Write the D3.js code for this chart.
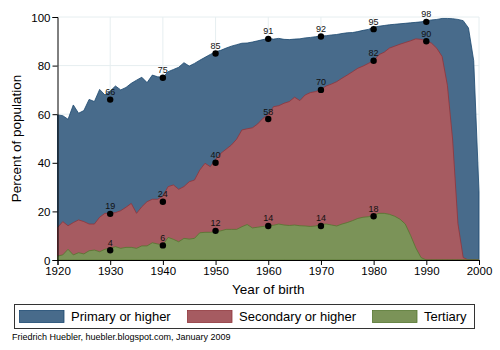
<!DOCTYPE html>
<html>
<head>
<meta charset="utf-8">
<script src="https://cdn.jsdelivr.net/npm/d3@7"></script>
<style>
  body { margin: 0; background: #fff; }
  text { font-family: "Liberation Sans", Arial, sans-serif; }
</style>
</head>
<body>
<svg id="chart" width="500" height="350"></svg>
<script>
// years of birth, one value per year
var years = d3.range(1920, 2001);

var primary = [59.7, 59.4, 57.9, 63.8, 60.4, 61.5, 66.1, 65.2, 70.2, 67.9,
  69.5, 71.6, 70.0, 71.0, 72.7, 74.0, 75.2, 73.0, 76.1, 75.4,
  75.2, 77.5, 78.4, 79.3, 81.2, 79.8, 80.9, 82.2, 83.4, 84.6,
  85.7, 86.3, 87.2, 88.0, 88.6, 89.2, 89.3, 89.7, 90.2, 90.7,
  91.2, 90.9, 91.2, 90.8, 90.7, 90.9, 91.0, 91.4, 91.6, 91.9,
  92.2, 92.3, 92.6, 92.8, 93.2, 93.5, 93.6, 94.0, 94.5, 94.9,
  95.8, 96.2, 96.5, 96.8, 97.0, 97.2, 97.4, 97.6, 97.8, 98.0,
  98.4, 98.8, 99.0, 99.4, 99.4, 99.3, 99.0, 98.5, 95.5, 82.0,
  28.0];

var secondary = [13.3, 15.8, 14.1, 15.4, 16.5, 15.8, 14.8, 14.8, 17.6, 19.2,
  19.2, 19.5, 20.3, 21.7, 23.3, 19.2, 21.9, 24.0, 25.0, 25.0,
  26.3, 30.2, 30.9, 29.1, 30.2, 32.2, 32.9, 37.0, 39.8, 38.4,
  41.4, 43.9, 45.6, 47.3, 49.7, 53.5, 54.0, 54.4, 56.0, 58.3,
  59.9, 63.1, 63.5, 64.5, 65.2, 67.0, 65.6, 67.9, 68.9, 69.3,
  70.2, 71.6, 72.4, 73.4, 74.8, 76.1, 77.5, 78.9, 79.8, 80.9,
  82.0, 84.5, 85.5, 87.2, 88.0, 88.8, 89.5, 90.2, 91.0, 90.8,
  90.2, 89.2, 87.1, 83.7, 71.9, 49.4, 15.0, 1.0, 0, 0,
  0];

var tertiary = [1.6, 2.1, 4.4, 2.1, 3.0, 2.5, 3.8, 4.1, 3.4, 4.4,
  4.8, 5.5, 4.8, 5.2, 5.2, 4.8, 5.8, 5.8, 7.1, 6.6,
  6.2, 9.3, 8.5, 7.5, 8.9, 8.6, 8.9, 11.2, 11.4, 11.4,
  11.7, 12.0, 12.6, 12.6, 12.6, 13.7, 14.6, 13.2, 13.5, 13.8,
  14.2, 14.3, 14.8, 14.4, 14.2, 14.4, 14.1, 14.0, 13.8, 14.0,
  14.6, 14.8, 14.4, 14.0, 14.8, 15.4, 16.2, 17.1, 17.6, 17.8,
  18.5, 19.2, 19.2, 18.8, 18.0, 16.8, 14.8, 10.2, 5.0, 1.0,
  0, 0, 0, 0, 0, 0, 0, 0, 0, 0,
  0];

// labelled points, one per decade
var pointYears = [1930, 1940, 1950, 1960, 1970, 1980, 1990];
var primaryPts = [66, 75, 85, 91, 92, 95, 98];
var secondaryPts = [19, 24, 40, 58, 70, 82, 90];
var tertiaryPts = [4, 6, 12, 14, 14, 18];

var xTicks = d3.range(1920, 2001, 10);
var yTicks = [0, 20, 40, 60, 80, 100];

var seriesNames = ["Primary or higher", "Secondary or higher", "Tertiary"];
var fills = ["#486b8b", "#a65b61", "#7b9358"];
var strokes = ["#1a476f", "#90353b", "#55752f"];

var svg = d3.select("#chart");

var x = d3.scaleLinear().domain([1920, 2000]).range([57.5, 479]);
var y = d3.scaleLinear().domain([0, 100]).range([260, 17]);

// faint grid
svg.append("g").selectAll("line").data(yTicks.slice(1)).enter().append("line")
  .attr("x1", x(1920)).attr("x2", x(2000))
  .attr("y1", function(d) { return y(d); }).attr("y2", function(d) { return y(d); })
  .attr("stroke", "#e6eef0").attr("stroke-width", 1);
svg.append("g").selectAll("line").data(xTicks.slice(1)).enter().append("line")
  .attr("x1", function(d) { return x(d); }).attr("x2", function(d) { return x(d); })
  .attr("y1", y(0)).attr("y2", y(100))
  .attr("stroke", "#e6eef0").attr("stroke-width", 1);

var area = d3.area()
  .x(function(d, i) { return x(years[i]); })
  .y0(y(0))
  .y1(function(d) { return y(d); });

[primary, secondary, tertiary].forEach(function(s, k) {
  svg.append("path")
    .datum(s)
    .attr("fill", fills[k])
    .attr("stroke", strokes[k])
    .attr("stroke-width", 0.8)
    .attr("stroke-linejoin", "round")
    .attr("d", area);
});

// axes
var xAxis = svg.append("g")
  .attr("transform", "translate(0," + y(0) + ")")
  .call(d3.axisBottom(x).tickValues(xTicks).tickFormat(d3.format("d")).tickSize(5).tickPadding(2));
var yAxis = svg.append("g")
  .attr("transform", "translate(" + x(1920) + ",0)")
  .call(d3.axisLeft(y).tickValues(yTicks).tickSize(5).tickPadding(2));
[xAxis, yAxis].forEach(function(a) {
  a.selectAll("path, line").attr("stroke", "#000");
  a.selectAll("text").attr("fill", "#000").style("font-size", "11.5px")
    .style("font-family", '"Liberation Sans", Arial, sans-serif');
});
yAxis.selectAll("text").attr("dy", "0.36em");

// markers with value labels
[primaryPts, secondaryPts, tertiaryPts].forEach(function(pts) {
  var g = svg.append("g");
  g.selectAll("circle").data(pts).enter().append("circle")
    .attr("cx", function(d, i) { return x(pointYears[i]); })
    .attr("cy", function(d) { return y(d); })
    .attr("r", 3.2)
    .attr("fill", "#000");
  g.selectAll("text").data(pts).enter().append("text")
    .attr("x", function(d, i) { return x(pointYears[i]); })
    .attr("y", function(d) { return y(d) - 4.5; })
    .attr("text-anchor", "middle")
    .attr("fill", "#111")
    .style("font-size", "9px")
    .text(function(d) { return d; });
});

// axis titles
svg.append("text")
  .attr("transform", "translate(21," + (y(50)) + ") rotate(-90)")
  .attr("text-anchor", "middle")
  .style("font-size", "13.5px")
  .text("Percent of population");
svg.append("text")
  .attr("x", x(1960)).attr("y", 294)
  .attr("text-anchor", "middle")
  .style("font-size", "13.5px")
  .text("Year of birth");

// legend
svg.append("rect")
  .attr("x", 14.5).attr("y", 304.5).attr("width", 460).attr("height", 24)
  .attr("fill", "#fff").attr("stroke", "#333").attr("stroke-width", 1);
var legendX = [19.5, 187.5, 372.5];
seriesNames.forEach(function(name, k) {
  svg.append("rect")
    .attr("x", legendX[k]).attr("y", 310.5).attr("width", 44.5).attr("height", 12)
    .attr("fill", fills[k]).attr("stroke", strokes[k]).attr("stroke-width", 0.8);
  svg.append("text")
    .attr("x", legendX[k] + 51.5).attr("y", 321)
    .style("font-size", "13px")
    .text(name);
});

svg.append("text")
  .attr("x", 12).attr("y", 340)
  .style("font-size", "9px")
  .text("Friedrich Huebler, huebler.blogspot.com, January 2009");
</script>
</body>
</html>
